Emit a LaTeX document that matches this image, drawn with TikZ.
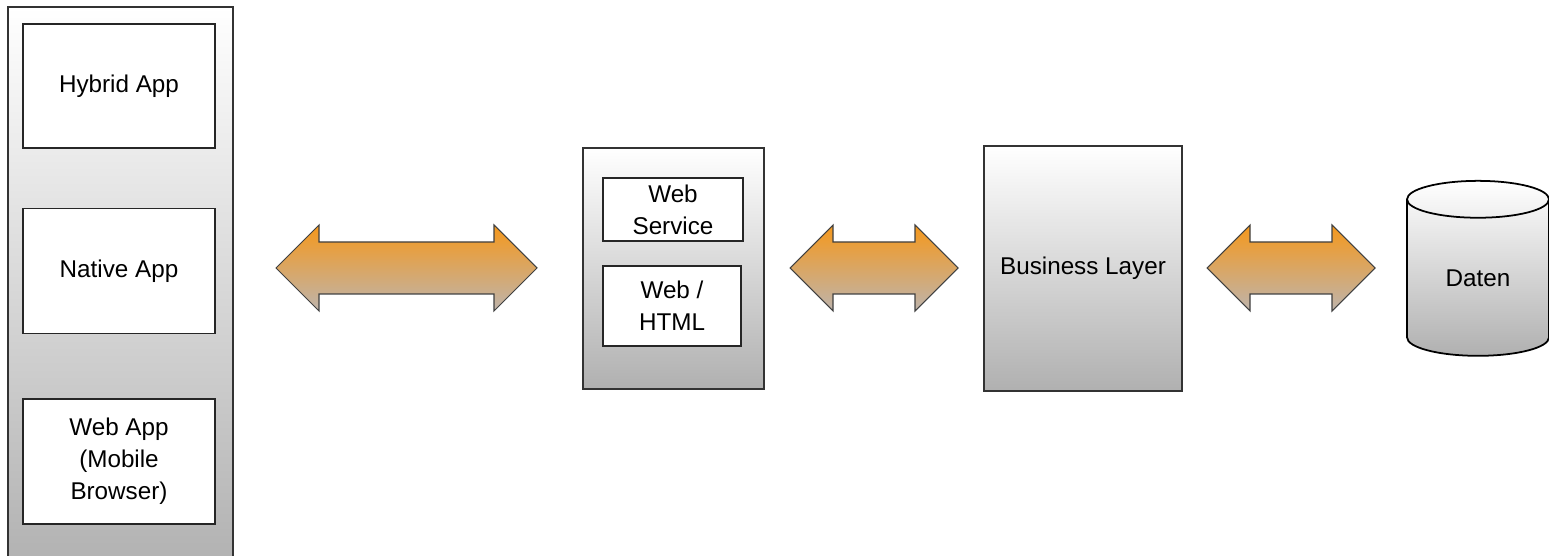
\documentclass[tikz,border=0pt]{standalone}
\usepackage{fontspec}
\setmainfont{Liberation Sans}
\usetikzlibrary{positioning}
\usetikzlibrary{calc, shapes.geometric}

\definecolor{boxgray}{RGB}{176,176,176}
\definecolor{arrowtop}{RGB}{245,152,28}
\definecolor{arrowbot}{RGB}{190,180,172}

% fat double arrow between two coordinates (tips)
\newcommand{\dblarrow}[2]{%
\draw[flow] (#1) -- ++(43,43) -- ++(0,-17) -- ($(#2)+(-43,26)$) -- ++(0,17) -- (#2)
  -- ++(-43,-43) -- ++(0,17) -- ($(#1)+(43,-26)$) -- ++(0,-17) -- cycle;}

\begin{document}
\begin{tikzpicture}[x=0.02cm,y=0.02cm,
  font=\fontsize{13.8}{18.2}\selectfont,
  layer/.style={draw=black!80,line width=0.9pt,top color=white,bottom color=boxgray,inner sep=0pt,align=center},
  part/.style={draw=black!85,line width=0.9pt,fill=white,inner sep=0pt,align=center},
  flow/.style={draw=black!75,line width=0.6pt,top color=arrowtop,bottom color=arrowbot}]
\clip (0,0) rectangle (1549,555);

% clients
\node[layer,minimum width=4.5cm,minimum height=11.36cm] (clients) at (120.5,264) {};
\node[part,minimum width=3.84cm,minimum height=2.48cm] (hybrid) at (119,469) {Hybrid App};
\node[part,minimum width=3.84cm,minimum height=2.5cm,below=1.18cm of hybrid] (native) {Native App};
\node[part,minimum width=3.84cm,minimum height=2.5cm,below=1.28cm of native] (webapp) {Web App\\(Mobile\\Browser)};

% server
\node[layer,minimum width=3.62cm,minimum height=4.82cm] (server) at (673.5,286.5) {};
\node[part,minimum width=2.8cm,minimum height=1.26cm] (websvc) at (673,345.5) {Web\\Service};
\node[part,minimum width=2.76cm,minimum height=1.6cm] (webhtml) at (672,249) {Web /\\HTML};

% business + data
\node[layer,minimum width=3.96cm,minimum height=4.9cm] (business) at (1083,286.5) {Business Layer};
\node[layer,draw=black,line width=1pt,cylinder,shape border rotate=90,aspect=0.57,minimum height=3.5cm,minimum width=2.84cm] (daten) at (1478,277) {Daten};

% arrows
\coordinate (a1l) at (276,287);
\coordinate (a1r) at (537,287);
\coordinate (a2l) at (790,287);
\coordinate (a2r) at (958,287);
\coordinate (a3l) at (1207,287);
\coordinate (a3r) at (1375,287);
\dblarrow{a1l}{a1r}
\dblarrow{a2l}{a2r}
\dblarrow{a3l}{a3r}

\end{tikzpicture}
\end{document}
